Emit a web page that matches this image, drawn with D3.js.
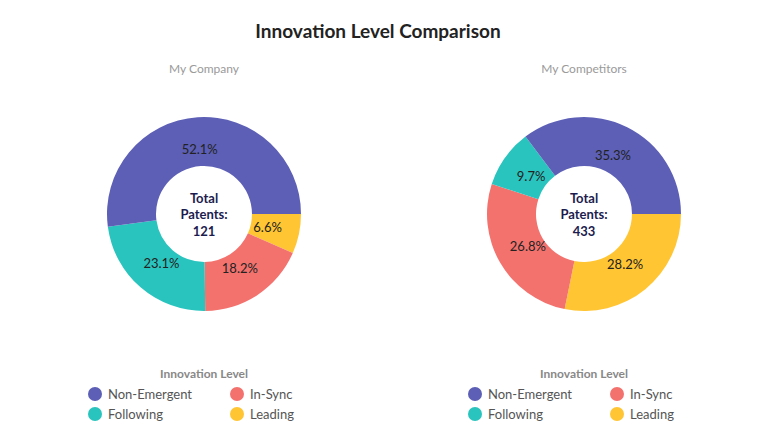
<!DOCTYPE html>
<html><head><meta charset="utf-8">
<script src="https://cdn.jsdelivr.net/npm/d3@7"></script>
<style>
body{margin:0;background:#fff;font-family:"Source Sans Pro",Lato,"Open Sans",sans-serif;}
</style></head>
<body><svg id="c" width="761" height="429"></svg>
<script>
const categories = ["Leading","In-Sync","Following","Non-Emergent"];
const colors = ["#FFC533","#F3726E","#2AC4BF","#5C5FB5"];
const companyValues = [6.6,18.2,23.1,52.1];
const competitorValues = [28.2,26.8,9.7,35.3];
const chartTitles = ["My Company","My Competitors"];
const totals = [121,433];
const legendOrder = ["Non-Emergent","In-Sync","Following","Leading"];

const svg = d3.select("#c");
const font = 'Lato, "Open Sans", sans-serif';
svg.append("text").attr("x",378).attr("y",38).attr("text-anchor","middle")
  .attr("font-family",font).attr("font-weight","bold").attr("font-size",19).attr("fill","#222")
  .text("Innovation Level Comparison");

const R = 97, r = 48, labelR = 65;
const centersX = [204,584];
const cy = 214;
const pie = d3.pie().sort(null).value(d=>d).startAngle(Math.PI/2).endAngle(Math.PI/2+2*Math.PI);
const arc = d3.arc().innerRadius(r).outerRadius(R);
const color = d3.scaleOrdinal().domain(categories).range(colors);

[companyValues, competitorValues].forEach((vals,i)=>{
  const cx = centersX[i];
  svg.append("text").attr("x",cx).attr("y",73).attr("text-anchor","middle")
    .attr("font-family",font).attr("font-size",12).attr("fill","#9a9a9a").text(chartTitles[i]);
  const g = svg.append("g").attr("transform",`translate(${cx},${cy})`);
  const arcs = pie(vals);
  g.selectAll("path").data(arcs).join("path").attr("d",arc)
    .attr("fill",(d,j)=>color(categories[j]));
  g.selectAll("text.p").data(arcs).join("text").attr("class","p")
    .attr("transform",d=>{const a=(d.startAngle+d.endAngle)/2;return `translate(${labelR*Math.sin(a)},${-labelR*Math.cos(a)})`;})
    .attr("text-anchor","middle").attr("dy","0.35em")
    .attr("font-family",font).attr("font-size",13).attr("fill","#222")
    .text(d=>d.value.toFixed(1)+"%");
  const ct = g.append("text").attr("text-anchor","middle").attr("font-family",font)
    .attr("font-weight","bold").attr("font-size",13).attr("fill","#1c1c4e");
  ["Total","Patents:",String(totals[i])].forEach((t,k)=>{
    ct.append("tspan").attr("x",0).attr("y",-16+k*16.5+4.5).text(t);
  });
  const lg = svg.append("g").attr("transform",`translate(${cx},0)`);
  lg.append("text").attr("x",0).attr("y",378).attr("text-anchor","middle")
    .attr("font-family",font).attr("font-weight","bold").attr("font-size",12).attr("fill","#888")
    .text("Innovation Level");
  legendOrder.forEach((name,k)=>{
    const col = k%2, row = Math.floor(k/2);
    const x = -109 + col*142, y = 394 + row*20;
    lg.append("circle").attr("cx",x).attr("cy",y).attr("r",7).attr("fill",color(name));
    lg.append("text").attr("x",x+13).attr("y",y).attr("dy","0.35em")
      .attr("font-family",font).attr("font-size",13).attr("fill","#555").text(name);
  });
});
</script></body></html>
